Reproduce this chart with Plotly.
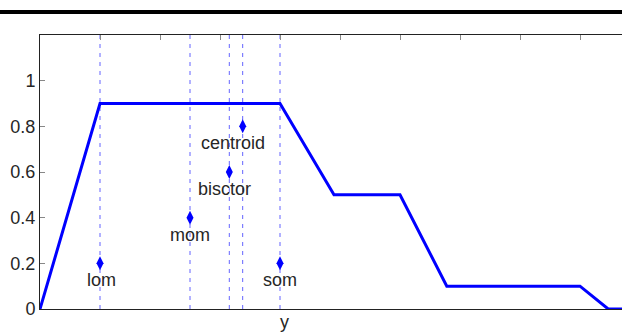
import plotly.graph_objects as go

# membership function outline
mf_x = [0, 1, 4, 4.9, 6.0, 6.78, 9.0, 9.47, 9.72]
mf_y = [0, 0.9, 0.9, 0.5, 0.5, 0.1, 0.1, 0, 0]

# defuzzification results
methods = ["lom", "mom", "bisctor", "centroid", "som"]
method_x = [1.0, 2.5, 3.155, 3.378, 4.0]
method_y = [0.2, 0.4, 0.6, 0.8, 0.2]

y_ticks = [0, 0.2, 0.4, 0.6, 0.8, 1]
y_tick_text = ["0", "0.2", "0.4", "0.6", "0.8", "1"]
top_ticks = [1, 2, 3, 4, 5, 6, 7, 8, 9]
x_label = "y"

# style-only offsets for label placement (pixels)
label_xshift = [1, 0, -5, -10, 0]

X_RANGE = [0, 9.7]
Y_RANGE = [0, 1.2]
FONT = dict(family="Liberation Sans, Arial, sans-serif", size=18, color="#262626")

fig = go.Figure()

for xv in method_x:
    fig.add_trace(go.Scatter(
        x=[xv, xv], y=Y_RANGE, mode="lines",
        line=dict(color="#6464ff", width=1, dash="4px,5px"),
        hoverinfo="skip", showlegend=False))

fig.add_trace(go.Scatter(
    x=mf_x, y=mf_y, mode="lines",
    line=dict(color="#0000ff", width=3), showlegend=False))

fig.add_trace(go.Scatter(
    x=method_x, y=method_y, mode="markers",
    marker=dict(symbol="diamond-tall", size=10, color="#0000ff"),
    showlegend=False))

for name, xv, yv, xs in zip(methods, method_x, method_y, label_xshift):
    fig.add_annotation(x=xv, y=yv, text=name, showarrow=False,
                       xshift=xs, yshift=-17, xanchor="center", yanchor="middle",
                       font=FONT)

fig.add_annotation(x=0.420, y=0, xref="paper", yref="paper", text=x_label,
                   showarrow=False, yshift=-13, xanchor="center", yanchor="middle",
                   font=FONT)

# thick rule at top of the image
fig.add_shape(type="line", xref="paper", yref="paper",
              x0=-0.1, x1=1.05, y0=1.0839, y1=1.0839,
              line=dict(color="black", width=4))

fig.update_layout(
    width=622, height=333,
    margin=dict(l=40, r=0, t=35, b=24),
    paper_bgcolor="white", plot_bgcolor="white",
    xaxis=dict(range=X_RANGE, showgrid=False, zeroline=False, showline=True,
               linecolor="#222222", linewidth=1, mirror=True, ticks="",
               showticklabels=False),
    xaxis2=dict(range=X_RANGE, overlaying="x", side="top", showgrid=False,
                zeroline=False, showline=False, ticks="inside", ticklen=5,
                tickcolor="#888888", tickvals=top_ticks, showticklabels=False),
    yaxis=dict(range=Y_RANGE, showgrid=False, zeroline=False, showline=True,
               linecolor="#222222", linewidth=1, ticks="inside", ticklen=5,
               tickcolor="#888888", tickvals=y_ticks, ticktext=y_tick_text,
               tickfont=FONT, ticklabelstandoff=0),
)

# invisible trace to activate the top axis
fig.add_trace(go.Scatter(x=[X_RANGE[0]], y=[0], xaxis="x2", mode="markers",
                         marker=dict(opacity=0), hoverinfo="skip", showlegend=False))

fig.write_html("out.html")
